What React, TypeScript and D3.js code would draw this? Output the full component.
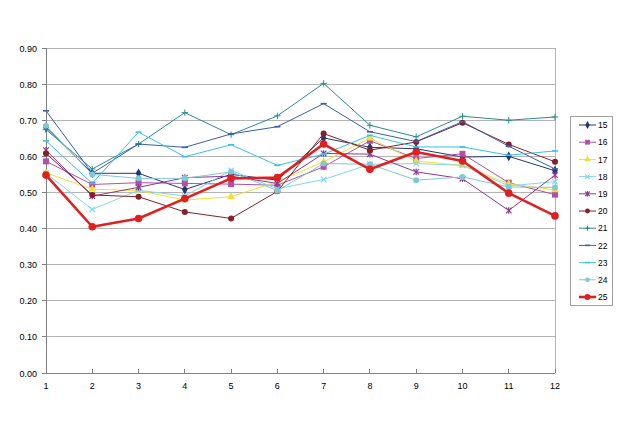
import React from "react";
import * as d3 from "d3";

const categories = [1, 2, 3, 4, 5, 6, 7, 8, 9, 10, 11, 12];
const yTicks = [0, 0.1, 0.2, 0.3, 0.4, 0.5, 0.6, 0.7, 0.8, 0.9];

const seriesNames = ["15", "16", "17", "18", "19", "20", "21", "22", "23", "24", "25"];

const s15 = [0.68, 0.553, 0.553, 0.508, 0.55, 0.534, 0.651, 0.625, 0.621, 0.598, 0.6, 0.56];
const s16 = [0.586, 0.522, 0.527, 0.525, 0.523, 0.52, 0.571, 0.643, 0.594, 0.607, 0.527, 0.494];
const s17 = [0.554, 0.509, 0.505, 0.479, 0.488, 0.53, 0.585, 0.65, 0.587, 0.575, 0.524, 0.507];
const s18 = [0.553, 0.453, 0.506, 0.49, 0.561, 0.51, 0.536, 0.578, 0.58, 0.575, 0.518, 0.53];
const s19 = [0.617, 0.49, 0.514, 0.541, 0.545, 0.525, 0.608, 0.606, 0.557, 0.538, 0.45, 0.548];
const s20 = [0.608, 0.493, 0.488, 0.446, 0.428, 0.503, 0.663, 0.617, 0.64, 0.693, 0.633, 0.585];
const s21 = [0.674, 0.565, 0.634, 0.721, 0.66, 0.712, 0.802, 0.686, 0.654, 0.711, 0.7, 0.709];
const s22 = [0.726, 0.553, 0.634, 0.625, 0.662, 0.682, 0.746, 0.668, 0.641, 0.696, 0.628, 0.565];
const s23 = [0.643, 0.525, 0.667, 0.599, 0.632, 0.575, 0.606, 0.658, 0.626, 0.626, 0.603, 0.615];
const s24 = [0.685, 0.55, 0.539, 0.539, 0.557, 0.505, 0.58, 0.578, 0.534, 0.543, 0.515, 0.514];
const s25 = [0.548, 0.405, 0.428, 0.483, 0.539, 0.541, 0.634, 0.564, 0.612, 0.587, 0.498, 0.435];

const seriesValues = [s15, s16, s17, s18, s19, s20, s21, s22, s23, s24, s25];

const colors = ["#243672", "#B050A8", "#F0E030", "#80D8F0", "#903890", "#842028", "#2A8C8C", "#3A5DB0", "#38C0F0", "#80C8D8", "#E0201E"];
const markers = ["diamond", "square", "triangle", "x", "star", "circle", "plus", "dash", "dash", "circle", "circle"];

function Marker({ type, x, y, color, big, s = 1 }: { type: string; x: number; y: number; color: string; big?: boolean; s?: number }) {
  const r = 2.8 * s;
  switch (type) {
    case "diamond":
      return <path d={d3.symbol(d3.symbolDiamond, 28 * s * s)() as string} transform={`translate(${x},${y})`} fill={color} />;
    case "square":
      return <rect x={x - 3 * s} y={y - 3 * s} width={6 * s} height={6 * s} fill={color} />;
    case "triangle":
      return <path d={d3.symbol(d3.symbolTriangle, 26 * s * s)() as string} transform={`translate(${x},${y})`} fill={color} />;
    case "x":
      return (
        <g stroke={color} strokeWidth={1.2}>
          <line x1={x - r} y1={y - r} x2={x + r} y2={y + r} />
          <line x1={x - r} y1={y + r} x2={x + r} y2={y - r} />
        </g>
      );
    case "star":
      return (
        <g stroke={color} strokeWidth={1.2}>
          <line x1={x - r} y1={y - r} x2={x + r} y2={y + r} />
          <line x1={x - r} y1={y + r} x2={x + r} y2={y - r} />
          <line x1={x} y1={y - r - 0.5} x2={x} y2={y + r + 0.5} />
        </g>
      );
    case "plus":
      return (
        <g stroke={color} strokeWidth={1}>
          <line x1={x - 3.2 * s} y1={y} x2={x + 3.2 * s} y2={y} />
          <line x1={x} y1={y - 3.2 * s} x2={x} y2={y + 3.2 * s} />
        </g>
      );
    case "dash":
      return <line x1={x - 3 * s} y1={y} x2={x + 3 * s} y2={y} stroke={color} strokeWidth={1.6} />;
    case "circle":
    default:
      return <circle cx={x} cy={y} r={(big ? 3.8 : 3) * s} fill={color} />;
  }
}

export default function App() {
  const W = 620;
  const H = 439;
  const left = 46;
  const right = 555;
  const top = 48;
  const bottom = 373;

  const x = d3.scalePoint<number>().domain(categories).range([left, right]);
  const y = d3.scaleLinear().domain([0, 0.9]).range([bottom, top]);

  const line = d3
    .line<number>()
    .x((_, i) => x(categories[i]) as number)
    .y((d) => y(d));

  const font = "'Liberation Sans', Arial, sans-serif";

  const legX = 570;
  const legY = 116;
  const legW = 42;
  const legH = 189;
  const legStep = 17.2;

  return (
    <svg width={W} height={H} style={{ position: "absolute", left: 0, top: 0, background: "#fff" }} fontFamily={font}>
      <rect x={0} y={0} width={W} height={H} fill="#fff" />
      {yTicks.map((t) => (
        <line key={t} x1={left} x2={right} y1={y(t)} y2={y(t)} stroke="#B4B4B4" strokeWidth={1} shapeRendering="crispEdges" />
      ))}
      <line x1={right} x2={right} y1={top} y2={bottom} stroke="#B4B4B4" strokeWidth={1} shapeRendering="crispEdges" />
      <line x1={left} x2={left} y1={top} y2={bottom} stroke="#808080" strokeWidth={1} shapeRendering="crispEdges" />
      {yTicks.map((t) => (
        <g key={"yt" + t}>
          <line x1={left - 4} x2={left} y1={y(t)} y2={y(t)} stroke="#808080" shapeRendering="crispEdges" />
          <text x={37} y={y(t) + 3.5} textAnchor="end" fontSize={9} fill="#000">
            {t.toFixed(2)}
          </text>
        </g>
      ))}
      <line x1={left} x2={right} y1={bottom} y2={bottom} stroke="#808080" strokeWidth={1} shapeRendering="crispEdges" />
      {categories.map((c) => (
        <g key={"xt" + c}>
          <line x1={x(c)} x2={x(c)} y1={bottom - 4} y2={bottom} stroke="#808080" shapeRendering="crispEdges" />
          <text x={x(c) as number} y={389} textAnchor="middle" fontSize={9} fill="#000">
            {c}
          </text>
        </g>
      ))}
      {seriesValues.map((vals, si) => {
        const isMain = si === 10;
        return (
          <g key={seriesNames[si]}>
            <path d={line(vals) as string} fill="none" stroke={colors[si]} strokeWidth={isMain ? 2.6 : 1} strokeLinejoin="round" />
            {vals.map((v, i) => (
              <Marker key={i} type={markers[si]} x={x(categories[i]) as number} y={y(v)} color={colors[si]} big={isMain} />
            ))}
          </g>
        );
      })}
      <rect x={legX} y={legY} width={legW} height={legH} fill="#fff" stroke="#A0A0A0" strokeWidth={1} shapeRendering="crispEdges" />
      {seriesNames.map((n, i) => {
        const ly = 125 + i * legStep;
        const isMain = i === 10;
        return (
          <g key={"lg" + n}>
            <line x1={579} x2={596} y1={ly} y2={ly} stroke={colors[i]} strokeWidth={isMain ? 2.6 : 1} />
            <Marker type={markers[i]} x={587.5} y={ly} color={colors[i]} big={isMain} s={0.8} />
            <text x={598} y={ly + 3.2} fontSize={8.5} fill="#000">
              {n}
            </text>
          </g>
        );
      })}
    </svg>
  );
}
